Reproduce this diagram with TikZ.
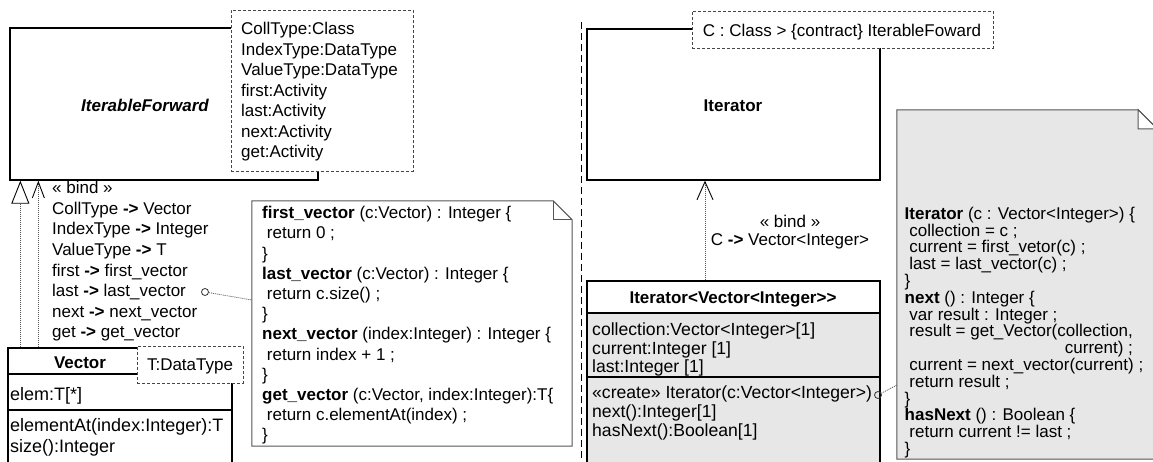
\documentclass[tikz,border=0pt]{standalone}
\usepackage{fontspec}
\setmainfont{Liberation Sans}
\usetikzlibrary{arrows.meta}
\definecolor{notegray}{RGB}{231,231,231}
\definecolor{dashgray}{RGB}{70,70,70}
\definecolor{linegray}{RGB}{85,85,85}
\newcommand\mystrut{\rule{0pt}{14pt}}
\newcommand\myind{\hspace*{0.278em}}
\begin{document}
\begin{tikzpicture}[x=1pt,y=-1pt,
  classbox/.style={draw=black, line width=1.3pt, inner sep=0pt},
  parambox/.style={draw=dashgray, line width=0.9pt, dash pattern=on 3pt off 2pt, fill=white, inner sep=0pt},
  notebox/.style={draw=linegray, line width=1pt},
  txt/.style={inner sep=0pt, anchor=north west, align=left},
  lbl/.style={inner sep=0pt, anchor=base},
  conn/.style={draw=linegray, line width=0.8pt, dash pattern=on 1pt off 1pt},
  circ/.style={circle, draw=black!80, line width=0.8pt, minimum size=7pt, inner sep=0pt},
  sepline/.style={line width=1pt, dash pattern=on 7pt off 4pt},
  ]
\useasboundingbox (0,0) rectangle (1153,461);
\clip (0,0) rectangle (1153,461);
\fill[white] (0,0) rectangle (1153,461);

% ---------------- left: IterableForward ----------------
\node[classbox, fill=white, minimum width=308pt, minimum height=152pt] (iff) at (164,104) {};
\node[lbl, font=\fontsize{17}{20}\selectfont\bfseries\itshape] (ifname) at (145,111) {IterableForward};
\node[parambox, minimum width=182pt, minimum height=161pt] (ifpar) at (322,90.5) {};
\node[txt, font=\fontsize{17}{20.5}\selectfont] (ifpartxt) at (241,20.5)
  {\mystrut CollType:Class\\IndexType:DataType\\ValueType:DataType\\first:Activity\\last:Activity\\next:Activity\\get:Activity};

% ---------------- Vector ----------------
\node[classbox, fill=white, minimum width=224pt, minimum height=122pt] (vec) at (120,409) {};
\draw[black, line width=1.3pt] (vec.west |- 0,374) -- (vec.east |- 0,374);
\draw[black, line width=1.3pt] (vec.west |- 0,410) -- (vec.east |- 0,410);
\node[lbl, font=\fontsize{17}{20}\selectfont\bfseries] (vecname) at (80,368) {Vector};
\node[parambox, minimum width=106pt, minimum height=37pt] (tpar) at (190,364.5) {};
\node[lbl, font=\fontsize{17}{20}\selectfont] (tpartxt) at (190,370) {T:DataType};
\node[txt, font=\fontsize{18}{20.5}\selectfont] (vecattr) at (10,386.5) {\mystrut elem:T[*]};
\node[txt, font=\fontsize{18}{21}\selectfont] (vecops) at (10,417) {\mystrut elementAt(index:Integer):T\\size():Integer};

% generalization and bind from Vector to IterableForward
\draw[conn, -{Triangle[open, length=23pt, width=18pt, color=black, line width=0.9pt]}]
  ([xshift=13pt]vec.north west) -- ([xshift=11pt]iff.south west);
\draw[conn, -{Straight Barb[length=16pt, width=12pt, color=black, line width=0.9pt]}]
  ([xshift=31pt]vec.north west) -- ([xshift=29pt]iff.south west);
\node[txt, font=\fontsize{17}{20.6}\selectfont] (bindtxt) at (52,179.5)
  {\mystrut « bind »\\CollType \textbf{->} Vector\\IndexType \textbf{->} Integer\\ValueType \textbf{->} T\\first \textbf{->} first\_vector\\last \textbf{->} last\_vector\\next \textbf{->} next\_vector\\get \textbf{->} get\_vector};

% ---------------- left note ----------------
\node[inner sep=0pt, minimum width=320pt, minimum height=245pt] (n1) at (412,323.5) {};
\draw[notebox, fill=white] (n1.north west) -- ([xshift=-19pt]n1.north east) -- ([yshift=-19pt]n1.north east)
  -- (n1.south east) -- (n1.south west) -- cycle;
\draw[notebox] ([xshift=-19pt]n1.north east) -- ([xshift=-19pt,yshift=-19pt]n1.north east) -- ([yshift=-19pt]n1.north east);
\node[txt, font=\fontsize{17}{20.2}\selectfont] (n1txt) at (262,204.5)
  {\mystrut\textbf{first\_vector} (c:Vector) : Integer \{\\
   \myind return 0 ;\\
   \}\\
   \textbf{last\_vector} (c:Vector) : Integer \{\\
   \myind return c.size() ;\\
   \}\\
   \textbf{next\_vector} (index:Integer) : Integer \{\\
   \myind return index + 1 ;\\
   \}\\
   \textbf{get\_vector} (c:Vector, index:Integer):T\{\\
   \myind return c.elementAt(index) ;\\
   \}};
\node[circ] (c1) at (205,292) {};
\coordinate (n1p) at (252,300);
\draw[conn] (c1) -- (n1p);

% ---------------- separator ----------------
\draw[sepline] (581,22) -- (581,461);

% ---------------- right: Iterator ----------------
\node[classbox, fill=white, minimum width=293pt, minimum height=151pt] (iter) at (733.5,104.5) {};
\node[lbl, font=\fontsize{17}{20}\selectfont\bfseries] (itername) at (733,111) {Iterator};
\node[parambox, minimum width=301pt, minimum height=37pt] (cpar) at (842.5,29.5) {};
\node[lbl, font=\fontsize{17}{20}\selectfont] (cpartxt) at (842,36) {C : Class > \{contract\} IterableFoward};

% ---------------- Iterator<Vector<Integer>> ----------------
\fill[notegray] (587,313) rectangle (880,470);
\node[classbox, minimum width=293pt, minimum height=189pt] (itv) at (733.5,375.5) {};
\draw[black, line width=1.3pt] (itv.west |- 0,313) -- (itv.east |- 0,313);
\draw[black, line width=1.3pt] (itv.west |- 0,377) -- (itv.east |- 0,377);
\node[lbl, font=\fontsize{17}{20}\selectfont\bfseries] (itvname) at (733,303) {Iterator<Vector<Integer>{}>};
\node[txt, font=\fontsize{17.6}{18.5}\selectfont] (itvattr) at (592,321.5)
  {\mystrut collection:Vector<Integer>[1]\\current:Integer [1]\\last:Integer [1]};
\node[txt, font=\fontsize{17.6}{19}\selectfont] (itvops) at (592,384.5)
  {\mystrut «create» Iterator(c:Vector<Integer>)\\next():Integer[1]\\hasNext():Boolean[1]};

\draw[conn, -{Straight Barb[length=18pt, width=16pt, color=black, line width=0.9pt]}]
  ([xshift=-28.5pt]itv.north) -- ([xshift=-28.5pt]iter.south);
\node[inner sep=0pt, align=center, font=\fontsize{17}{18}\selectfont] (bind2) at (790,232)
  {« bind »\\C \textbf{->} Vector<Integer>};

% ---------------- right note ----------------
\node[inner sep=0pt, minimum width=260pt, minimum height=349pt] (n2) at (1027,284.5) {};
\draw[notebox, fill=notegray] (n2.north west) -- ([xshift=-19pt]n2.north east) -- ([yshift=-19pt]n2.north east)
  -- (n2.south east) -- (n2.south west) -- cycle;
\draw[notebox, fill=white] ([xshift=-19pt]n2.north east) -- ([xshift=-19pt,yshift=-19pt]n2.north east) -- ([yshift=-19pt]n2.north east) -- cycle;
\node[txt, font=\fontsize{17}{16.8}\selectfont] (n2txt) at (904.5,205)
  {\mystrut\textbf{Iterator} (c : Vector<Integer>) \{\\
   \myind collection = c ;\\
   \myind current = first\_vetor(c) ;\\
   \myind last = last\_vector(c) ;\\
   \}\\
   \textbf{next} () : Integer \{\\
   \myind var result : Integer ;\\
   \myind result = get\_Vector(collection,\\
   \hphantom{\myind result = get\_Vector(collection,}\llap{current) ;}\\
   \myind current = next\_vector(current) ;\\
   \myind return result ;\\
   \}\\
   \textbf{hasNext} () : Boolean \{\\
   \myind return current != last ;\\
   \}};
\node[circ] (c2) at (878,395) {};
\coordinate (n2p) at (897,385);
\draw[conn] (c2) -- (n2p);
\end{tikzpicture}
\end{document}
